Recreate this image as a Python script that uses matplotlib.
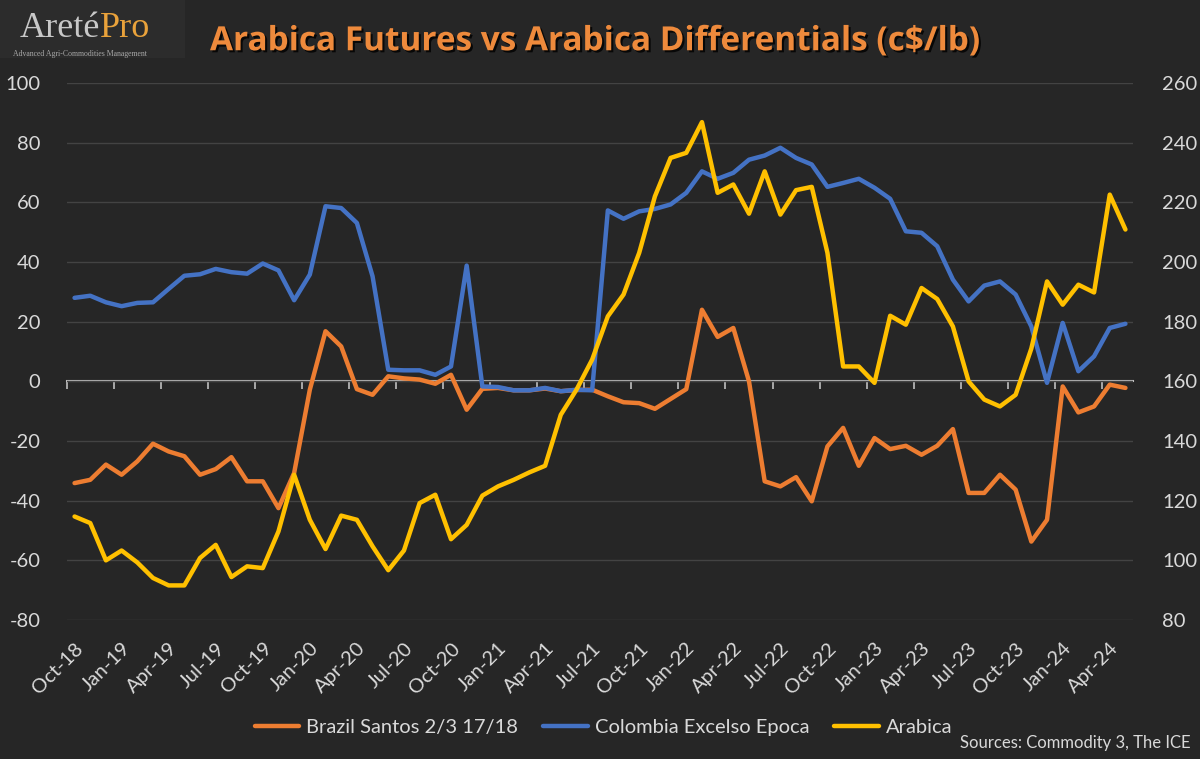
import numpy as np
import pandas as pd
import matplotlib
matplotlib.use('Agg')
import matplotlib.pyplot as plt
import matplotlib.patheffects as pe

# Monthly categories Oct-18 .. May-24
months = pd.date_range('2018-10-01', periods=68, freq='MS')
month_labels = [m.strftime('%b-%y') for m in months]

# Differentials, c/lb (left axis)
brazil = [-34.1, -33.0, -27.9, -31.3, -26.8, -20.9, -23.5, -25.1, -31.3, -29.4,
          -25.4, -33.5, -33.5, -42.5, -30.7, -2.8, 16.8, 11.7, -2.6, -4.5,
          1.7, 1.0, 0.6, -0.8, 2.2, -9.5, -2.5, -2.2, -3.0, -3.0,
          -2.4, -3.3, -2.9, -2.8, -5.0, -7.0, -7.3, -9.2, -5.9, -2.6,
          24.0, 14.9, 17.9, 0.0, -33.5, -35.2, -32.1, -40.2, -21.8, -15.6,
          -28.3, -19.0, -22.7, -21.6, -24.6, -21.6, -16.0, -37.4, -37.4, -31.3,
          -36.3, -53.7, -46.4, -1.7, -10.4, -8.4, -1.1, -2.2]
colombia = [28.0, 28.7, 26.5, 25.2, 26.3, 26.5, 31.0, 35.4, 35.9, 37.7,
            36.6, 36.1, 39.5, 37.2, 27.2, 35.8, 58.7, 58.1, 53.1, 35.2,
            3.9, 3.7, 3.7, 2.2, 5.0, 38.8, -1.7, -1.9, -3.0, -3.0,
            -2.2, -3.3, -2.8, -3.0, 57.3, 54.5, 57.0, 57.8, 59.3, 63.2,
            70.4, 67.9, 69.9, 74.3, 75.7, 78.3, 74.9, 72.7, 65.2, 66.5,
            67.9, 64.9, 61.2, 50.3, 49.8, 45.3, 34.1, 26.8, 32.1, 33.5,
            29.1, 18.4, -0.5, 19.6, 3.4, 8.4, 17.9, 19.3]
# Arabica futures, c/lb (right axis)
arabica = [114.7, 112.5, 100.0, 103.3, 99.3, 94.1, 91.6, 91.6, 100.8, 105.2,
           94.4, 98.0, 97.4, 109.7, 128.7, 113.6, 103.8, 115.0, 113.6, 104.7,
           96.7, 103.3, 119.2, 122.0, 107.1, 111.9, 121.7, 124.8, 127.0, 129.5,
           131.7, 148.8, 157.2, 167.3, 181.8, 189.1, 203.1, 222.0, 234.9, 236.6,
           246.9, 223.2, 226.0, 216.2, 230.4, 215.9, 224.1, 225.2, 203.1, 165.0,
           165.0, 159.5, 182.0, 179.0, 191.3, 187.6, 178.4, 160.0, 153.9, 151.6,
           155.5, 171.0, 193.5, 185.7, 192.4, 189.8, 222.6, 210.9]

bg = '#262626'
txt = '#d9d9d9'
plt.rcParams['font.family'] = ['Lato', 'DejaVu Sans']
plt.rcParams['axes.unicode_minus'] = False

fig = plt.figure(figsize=(12, 7.59), dpi=100, facecolor=bg)
ax = fig.add_axes([0.0556, 0.1831, 0.8888, 0.7075])
ax.set_facecolor(bg)
x = np.arange(len(months))

l1, = ax.plot(x, brazil, color='#ED7D31', lw=3.2, solid_joinstyle='round',
              solid_capstyle='round', label='Brazil Santos 2/3 17/18', zorder=3)
l2, = ax.plot(x, colombia, color='#4472C4', lw=3.2, solid_joinstyle='round',
              solid_capstyle='round', label='Colombia Excelso Epoca', zorder=4)
ax.set_ylim(-80, 100)
ax.set_xlim(-0.5, len(months) - 0.5)
ax.set_yticks(np.arange(-80, 101, 20))
ax.grid(axis='y', color='#434343', lw=1)
ax.set_axisbelow(True)
for s in ax.spines.values():
    s.set_visible(False)

# labels sit under the categories, tick marks between them
ax.set_xticks(x[::3])
ax.set_xticklabels(month_labels[::3], rotation=45, ha='right',
                   rotation_mode='anchor', fontsize=14.5, color=txt)
ax.tick_params(axis='x', length=0, pad=14)
ax.tick_params(axis='y', length=0, labelsize=14.5, labelcolor=txt, pad=19)

# category axis crossing at zero
zero_frac = (0 - ax.get_ylim()[0]) / (ax.get_ylim()[1] - ax.get_ylim()[0])
tick_pos = x[::3] - 0.5
sec = ax.secondary_xaxis(zero_frac)
sec.xaxis.set_ticks_position('bottom')
sec.set_xticks(tick_pos, labels=[''] * len(tick_pos))
sec.tick_params(axis='x', direction='out', length=6, width=1.2,
                color='#bfbfbf', labelbottom=False, labeltop=False)
sec.spines['bottom'].set_color('#bfbfbf')
sec.spines['bottom'].set_linewidth(1.5)

ax2 = ax.twinx()
l3, = ax2.plot(x, arabica, color='#FFC000', lw=3.2, solid_joinstyle='round',
               solid_capstyle='round', label='Arabica')
ax2.set_ylim(80, 260)
ax2.set_yticks(np.arange(80, 261, 20))
ax2.tick_params(axis='y', length=0, labelsize=14.5, labelcolor=txt, pad=21)
for s in ax2.spines.values():
    s.set_visible(False)

# title and logo
fig.text(0.175, 0.945, 'Arabica Futures vs Arabica Differentials (c$/lb)',
         fontsize=24, fontweight='bold', family=['Open Sans', 'DejaVu Sans'],
         color='#EE8A3C', va='center', ha='left',
         path_effects=[pe.withSimplePatchShadow(offset=(1.5, -1.5), shadow_rgbFace='black', alpha=0.8)])
fig.patches.append(plt.Rectangle((0, 0.923), 0.154, 0.077, transform=fig.transFigure,
                                 facecolor='#2c2c2c', edgecolor='none'))
fig.text(0.016, 0.951, 'Areté', fontsize=26, family='Liberation Serif', color='#c8c8c8',
         va='baseline', ha='left')
fig.text(0.0835, 0.951, 'Pro', fontsize=26, family='Liberation Serif', color='#E9A23B',
         va='baseline', ha='left')
fig.text(0.011, 0.929, 'Advanced Agri-Commodities Management', fontsize=5.6,
         family='Liberation Serif', color='#a8a8a8', va='center', ha='left')

leg = fig.legend(handles=[l1, l2, l3], loc='center', bbox_to_anchor=(0.503, 0.042),
                 ncol=3, frameon=False, fontsize=14.5, handlelength=2.2,
                 columnspacing=1.25, handletextpad=0.35)
for t in leg.get_texts():
    t.set_color(txt)
fig.text(0.992, 0.021, 'Sources: Commodity 3, The ICE', fontsize=12, color=txt,
         ha='right', va='center')

fig.savefig('out.png', dpi=100, facecolor=bg)
